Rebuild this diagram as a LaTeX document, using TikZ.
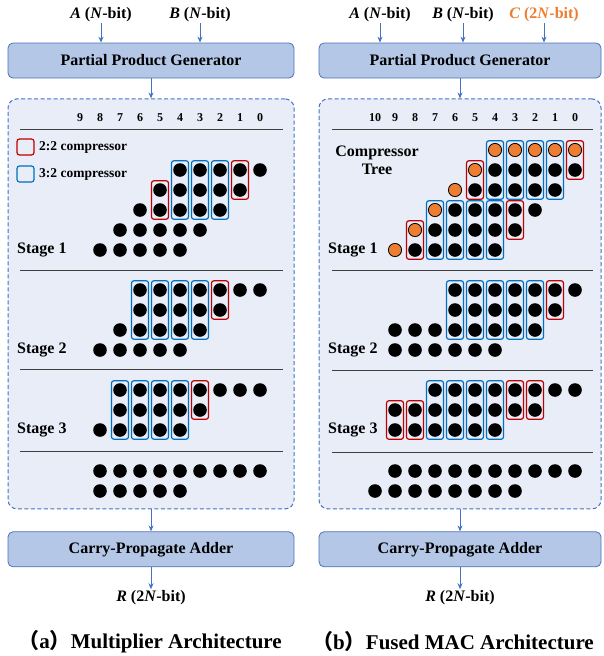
\documentclass[tikz,border=0pt]{standalone}
\usepackage{fontspec}
\setmainfont{Liberation Serif}
\newfontfamily\cjk{Noto Sans CJK SC}
\usepackage{tikz}
\usetikzlibrary{positioning,arrows.meta}
\definecolor{boxfill}{HTML}{B4C7E7}
\definecolor{boxline}{HTML}{4A72BA}
\definecolor{areafill}{HTML}{E8EDF7}
\definecolor{arrowblue}{HTML}{4472C4}
\definecolor{cmpred}{HTML}{C00000}
\definecolor{cmpblue}{HTML}{0070C0}
\definecolor{dotorange}{HTML}{ED7D31}
\definecolor{sepgray}{HTML}{404040}

\begin{document}
\begin{tikzpicture}[x=1pt,y=-1pt,
                    blocknode/.style={rectangle, rounded corners=5pt, draw=boxline, fill=boxfill, line width=0.8pt, minimum height=35pt, font=\fontsize{16}{18}\selectfont\bfseries},
                    areanode/.style={rectangle, rounded corners=9pt, draw=arrowblue, line width=1pt, dash pattern=on 4pt off 2.5pt, fill=areafill, minimum height=410pt},
                    labelnode/.style={font=\fontsize{16}{18}\selectfont\bfseries, inner sep=1pt},
                    numnode/.style={font=\fontsize{12}{13}\selectfont\bfseries, inner sep=0pt},
                    legendnode/.style={font=\fontsize{13.5}{15}\selectfont\bfseries, anchor=west, inner sep=0pt},
                    captionnode/.style={font=\fontsize{21}{24}\selectfont\bfseries},
                    arrow/.style={draw=arrowblue, line width=1pt, -{Stealth[length=6pt,width=5pt]}},
                    bit/.style={fill=black},
                    cbit/.style={fill=dotorange, draw=black, line width=0.8pt},
                    cmpA/.style={draw=cmpred, line width=1.2pt, rounded corners=2.5pt},
                    cmpB/.style={draw=cmpblue, line width=1.2pt, rounded corners=2.5pt},
                    sepline/.style={draw=sepgray, line width=1pt}]
    \useasboundingbox (0,0) rectangle (603,656);

    % (a) multiplier
    \node[blocknode, minimum width=286pt] (ppgL) at (151,60.5) {Partial Product Generator};
    \node[areanode, minimum width=286pt] (areaL) [below=20pt of ppgL] {};
    \node[blocknode, minimum width=286pt] (cpaL) [below=22pt of areaL] {Carry-Propagate Adder};
    \node[labelnode] (inA) at (101,15) {\textit{A} (\textit{N}-bit)};
    \node[labelnode] (inB) at (200,15) {\textit{B} (\textit{N}-bit)};
    \node[labelnode] (outL) [below=22pt of cpaL] {\textit{R} (2\textit{N}-bit)};
    \node[captionnode] (capL) at (150,642) {{\cjk （}a{\cjk ）}Multiplier Architecture};
    \draw[arrow] (inA) -- (inA |- ppgL.north);
    \draw[arrow] (inB) -- (inB |- ppgL.north);
    \draw[arrow] (ppgL.south) -- (areaL.north);
    \draw[arrow] (areaL.south) -- (cpaL.north);
    \draw[arrow] (cpaL.south) -- (outL.north);

    \foreach \k in {0,...,9}
        \node[numnode] at ({260-20*\k},118) {\k};
    \foreach \y in {129,270,369,451}
        \draw[sepline] (20,\y) -- (283,\y);
    \draw[cmpA] (17,139) rectangle (34,155);
    \draw[cmpB] (17,166) rectangle (34,182);
    \node[legendnode] (legA) at (39,147) {2:2 compressor};
    \node[legendnode] (legB) at (39,174) {3:2 compressor};
    \node[labelnode, anchor=west] (stL1) at (16,250) {Stage 1};
    \node[labelnode, anchor=west] (stL2) at (16,350) {Stage 2};
    \node[labelnode, anchor=west] (stL3) at (16,430) {Stage 3};

    \foreach \y/\a/\b in {170/4/0,190/5/1,210/6/2,230/7/3,250/8/4,
                          290/6/0,310/6/2,330/7/3,350/8/4,
                          390/7/0,410/7/3,430/8/4,
                          471/8/0,491/8/4}
        \foreach \k in {\a,...,\b}
            \fill[bit] ({260-20*\k},\y) circle (6.8pt);
    \foreach \k/\t/\b in {5/190/210,1/170/190,2/290/310,3/390/410}
        \draw[cmpA] ({260-20*\k-8.5},{\t-9.3}) rectangle ({260-20*\k+8.5},{\b+9.3});
    \foreach \k/\t/\b in {4/170/210,3/170/210,2/170/210,
                          6/290/330,5/290/330,4/290/330,3/290/330,
                          7/390/430,6/390/430,5/390/430,4/390/430}
        \draw[cmpB] ({260-20*\k-8.5},{\t-9.3}) rectangle ({260-20*\k+8.5},{\b+9.3});

    % (b) fused MAC
    \node[blocknode, minimum width=282pt] (ppgR) at (460,60.5) {Partial Product Generator};
    \node[areanode, minimum width=282pt] (areaR) [below=20pt of ppgR] {};
    \node[blocknode, minimum width=282pt] (cpaR) [below=22pt of areaR] {Carry-Propagate Adder};
    \node[labelnode] (inA2) at (380,15) {\textit{A} (\textit{N}-bit)};
    \node[labelnode] (inB2) at (463,15) {\textit{B} (\textit{N}-bit)};
    \node[labelnode, text=dotorange] (inC) at (544,15) {\textit{C} (2\textit{N}-bit)};
    \node[labelnode] (outR) [below=22pt of cpaR] {\textit{R} (2\textit{N}-bit)};
    \node[captionnode] (capR) at (453,642) {{\cjk （}b{\cjk ）}Fused MAC Architecture};
    \draw[arrow] (inA2) -- (inA2 |- ppgR.north);
    \draw[arrow] (inB2) -- (inB2 |- ppgR.north);
    \draw[arrow] (inC) -- (inC |- ppgR.north);
    \draw[arrow] (ppgR.south) -- (areaR.north);
    \draw[arrow] (areaR.south) -- (cpaR.north);
    \draw[arrow] (cpaR.south) -- (outR.north);

    \foreach \k in {0,...,10}
        \node[numnode] at ({575-20*\k},118) {\k};
    \foreach \y in {129,270,370,452}
        \draw[sepline] (332,\y) -- (593,\y);
    \node[labelnode, align=center] (tree) at (377,160) {Compressor\\Tree};
    \node[labelnode, anchor=west] (stR1) at (327,250) {Stage 1};
    \node[labelnode, anchor=west] (stR2) at (327,350) {Stage 2};
    \node[labelnode, anchor=west] (stR3) at (327,430) {Stage 3};

    \foreach \y/\a/\b in {170/4/0,190/5/1,210/6/2,230/7/3,250/8/4,
                          290/6/0,310/6/1,330/9/2,350/9/4,
                          390/7/0,410/9/2,430/9/4,
                          471/9/0,491/10/3}
        \foreach \k in {\a,...,\b}
            \fill[bit] ({575-20*\k},\y) circle (6.8pt);
    \foreach \k/\y in {4/150,3/150,2/150,1/150,0/150,5/170,6/190,7/210,8/230,9/250}
        \filldraw[cbit] ({575-20*\k},\y) circle (6.6pt);
    \foreach \k/\t/\b in {0/150/170,5/170/190,3/210/230,8/230/250,
                          1/290/310,9/410/430,8/410/430,3/390/410,2/390/410}
        \draw[cmpA] ({575-20*\k-8.5},{\t-9.3}) rectangle ({575-20*\k+8.5},{\b+9.3});
    \foreach \k/\t/\b in {4/150/190,3/150/190,2/150/190,1/150/190,
                          7/210/250,6/210/250,5/210/250,4/210/250,
                          6/290/330,5/290/330,4/290/330,3/290/330,2/290/330,
                          7/390/430,6/390/430,5/390/430,4/390/430}
        \draw[cmpB] ({575-20*\k-8.5},{\t-9.3}) rectangle ({575-20*\k+8.5},{\b+9.3});
\end{tikzpicture}
\end{document}
